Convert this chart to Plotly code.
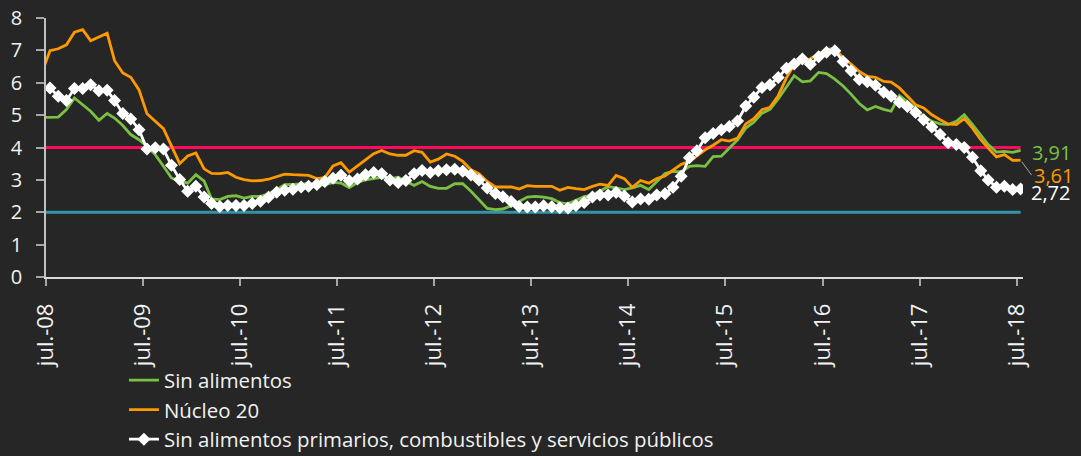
import pandas as pd
import plotly.graph_objects as go

# Monthly series, jun-08 .. jul-18 (jun-08 only partly visible at the left edge)
months = pd.date_range("2008-06-01", "2018-07-01", freq="MS")

sin_alimentos = [
    4.93,
    4.93, 4.94, 5.17, 5.53, 5.32, 5.12, 4.84, 5.05, 4.91, 4.68,
    4.40, 4.24, 4.04, 3.78, 3.42, 3.06, 2.96, 2.90, 3.16, 2.96,
    2.41, 2.39, 2.49, 2.51, 2.44, 2.49, 2.49, 2.57, 2.70, 2.85,
    2.86, 2.86, 2.88, 2.85, 2.85, 2.92, 2.90, 2.76, 2.92, 3.00,
    3.04, 3.08, 3.03, 3.08, 2.96, 2.83, 2.95, 2.80, 2.74, 2.74,
    2.88, 2.88, 2.65, 2.38, 2.12, 2.08, 2.10, 2.20, 2.33, 2.47,
    2.49, 2.47, 2.42, 2.30, 2.26, 2.38, 2.48, 2.53, 2.66, 2.79,
    2.75, 2.70, 2.75, 2.83, 2.70, 2.95, 3.20, 3.26, 3.25, 3.42,
    3.44, 3.42, 3.72, 3.73, 3.98, 4.24, 4.60, 4.78, 5.06, 5.18,
    5.50, 5.88, 6.22, 6.03, 6.06, 6.32, 6.28, 6.11, 5.90, 5.65,
    5.36, 5.16, 5.27, 5.18, 5.12, 5.60, 5.42, 5.22, 4.96, 4.81,
    4.73, 4.71, 4.81, 5.01, 4.71, 4.40, 4.09, 3.86, 3.88, 3.85,
    3.91,
]

nucleo_20 = [
    6.33,
    6.99, 7.05, 7.17, 7.56, 7.64, 7.30, 7.42, 7.53, 6.68, 6.30,
    6.17, 5.78, 5.04, 4.80, 4.58, 4.05, 3.50, 3.74, 3.83, 3.34,
    3.20, 3.19, 3.23, 3.08, 3.01, 2.97, 2.98, 3.02, 3.10, 3.18,
    3.16, 3.15, 3.14, 3.04, 3.07, 3.43, 3.53, 3.24, 3.42, 3.62,
    3.81, 3.91, 3.80, 3.76, 3.76, 3.90, 3.85, 3.55, 3.64, 3.80,
    3.73, 3.57, 3.31, 3.19, 2.95, 2.78, 2.78, 2.78, 2.72, 2.82,
    2.80, 2.80, 2.80, 2.68, 2.77, 2.73, 2.70, 2.80, 2.87, 2.83,
    3.14, 3.04, 2.77, 2.98, 2.90, 3.04, 3.12, 3.30, 3.48, 3.57,
    3.73, 3.93, 4.07, 4.24, 4.20, 4.29, 4.73, 4.89, 5.17, 5.24,
    5.60, 6.15, 6.56, 6.66, 6.74, 6.89, 7.02, 7.07, 6.77, 6.58,
    6.35, 6.20, 6.17, 6.04, 6.02, 5.84, 5.58, 5.32, 5.22, 5.01,
    4.86, 4.73, 4.71, 4.89, 4.60, 4.24, 3.98, 3.71, 3.78, 3.60,
    3.61,
]

sin_alim_prim = [
    None,
    5.84, 5.58, 5.45, 5.82, 5.82, 5.94, 5.75, 5.77, 5.45, 5.05,
    4.88, 4.55, 3.95, 3.99, 3.95, 3.45, 3.01, 2.65, 2.80, 2.47,
    2.27, 2.18, 2.21, 2.21, 2.21, 2.27, 2.34, 2.46, 2.62, 2.68,
    2.71, 2.78, 2.80, 2.86, 2.95, 3.05, 3.14, 2.97, 3.03, 3.16,
    3.23, 3.19, 3.00, 2.92, 2.98, 3.19, 3.29, 3.23, 3.28, 3.31,
    3.33, 3.27, 3.15, 3.00, 2.75, 2.58, 2.48, 2.33, 2.18, 2.16,
    2.16, 2.20, 2.17, 2.14, 2.13, 2.21, 2.30, 2.47, 2.53, 2.53,
    2.61, 2.50, 2.32, 2.41, 2.40, 2.53, 2.57, 2.77, 3.11, 3.68,
    3.90, 4.30, 4.43, 4.55, 4.65, 4.82, 5.28, 5.55, 5.85, 5.94,
    6.16, 6.45, 6.58, 6.73, 6.57, 6.80, 6.94, 6.99, 6.66, 6.37,
    6.10, 6.03, 5.92, 5.71, 5.58, 5.40, 5.27, 5.08, 4.86, 4.63,
    4.40, 4.15, 4.09, 4.00, 3.70, 3.28, 3.00, 2.77, 2.80, 2.70,
    2.72,
]

meta_sup = [4.0] * len(months)
meta_inf = [2.0] * len(months)

tick_years = list(range(2008, 2019))
tick_labels = ["jul.-%02d" % (y % 100) for y in tick_years]
label_texts = ["3,91", "3,61", "2,72"]

# points sit in the middle of each month
x = months + pd.Timedelta(days=15)
tick_vals = [pd.Timestamp(y, 7, 1) for y in tick_years]

GREEN = "#7AC143"
ORANGE = "#FF9900"
WHITE = "#FFFFFF"
PINK = "#FF0A5E"
TEAL = "#3394A8"
BG = "#262626"
TXT = "#F2F2F2"
FONT = "Open Sans"

fig = go.Figure()
fig.add_trace(go.Scatter(x=x, y=meta_sup, mode="lines", line=dict(color=PINK, width=3),
                         showlegend=False, hoverinfo="skip"))
fig.add_trace(go.Scatter(x=x, y=meta_inf, mode="lines", line=dict(color=TEAL, width=3),
                         showlegend=False, hoverinfo="skip"))
fig.add_trace(go.Scatter(x=x, y=sin_alimentos, mode="lines", name="Sin alimentos",
                         line=dict(color=GREEN, width=2.8)))
fig.add_trace(go.Scatter(x=x, y=nucleo_20, mode="lines", name="Núcleo 20",
                         line=dict(color=ORANGE, width=2.8)))
fig.add_trace(go.Scatter(x=x, y=sin_alim_prim, mode="lines+markers",
                         name="Sin alimentos primarios, combustibles y servicios públicos",
                         line=dict(color=WHITE, width=2.8),
                         marker=dict(symbol="diamond", size=10, color=WHITE,
                                     line=dict(color=WHITE, width=0))))

last_x = x[-1]
fig.add_annotation(x=last_x, y=sin_alimentos[-1], text=label_texts[0], showarrow=False,
                   xanchor="left", yanchor="middle", xshift=9, yshift=-2,
                   font=dict(family=FONT, size=20, color=GREEN))
fig.add_annotation(x=last_x, y=nucleo_20[-1], text=label_texts[1], showarrow=True,
                   arrowhead=0, arrowwidth=1, arrowcolor="#A6A6A6",
                   ax=11, ay=15, xanchor="left", yanchor="middle", standoff=2,
                   font=dict(family=FONT, size=20, color=ORANGE))
fig.add_annotation(x=last_x, y=sin_alim_prim[-1], text=label_texts[2], showarrow=False,
                   xanchor="left", yanchor="middle", xshift=8, yshift=-4,
                   font=dict(family=FONT, size=20, color=WHITE))

fig.update_layout(
    width=1081, height=456,
    paper_bgcolor=BG, plot_bgcolor=BG,
    margin=dict(l=46, r=58, t=18, b=179, autoexpand=False),
    font=dict(family=FONT, color=TXT, size=18),
    legend=dict(x=0.0798, y=-0.322, xanchor="left", yanchor="top",
                bgcolor="rgba(0,0,0,0)", font=dict(size=20.4, color=TXT),
                tracegroupgap=0, itemwidth=30),
    showlegend=True,
)
fig.update_xaxes(
    type="date", range=[pd.Timestamp(2008, 7, 1), pd.Timestamp(2018, 7, 25)],
    tickmode="array", tickvals=tick_vals, ticktext=tick_labels, tickangle=-90,
    ticks="outside", ticklen=7, tickwidth=1.5, tickcolor="#A6A6A6",
    ticklabelstandoff=9,
    showline=True, linecolor="#D9D9D9", linewidth=1.5,
    showgrid=False, zeroline=False, tickfont=dict(size=22, color=TXT),
)
fig.update_yaxes(
    range=[0, 8], dtick=1, tick0=0,
    ticks="outside", ticklen=8, tickwidth=1.5, tickcolor="#A6A6A6",
    ticklabelstandoff=10,
    showline=True, linecolor="#BFBFBF", linewidth=1.5,
    showgrid=False, zeroline=False, tickfont=dict(size=20, color=TXT),
)

fig.write_html("out.html", config={"displayModeBar": False},
               post_script="document.body.style.margin='0';")
